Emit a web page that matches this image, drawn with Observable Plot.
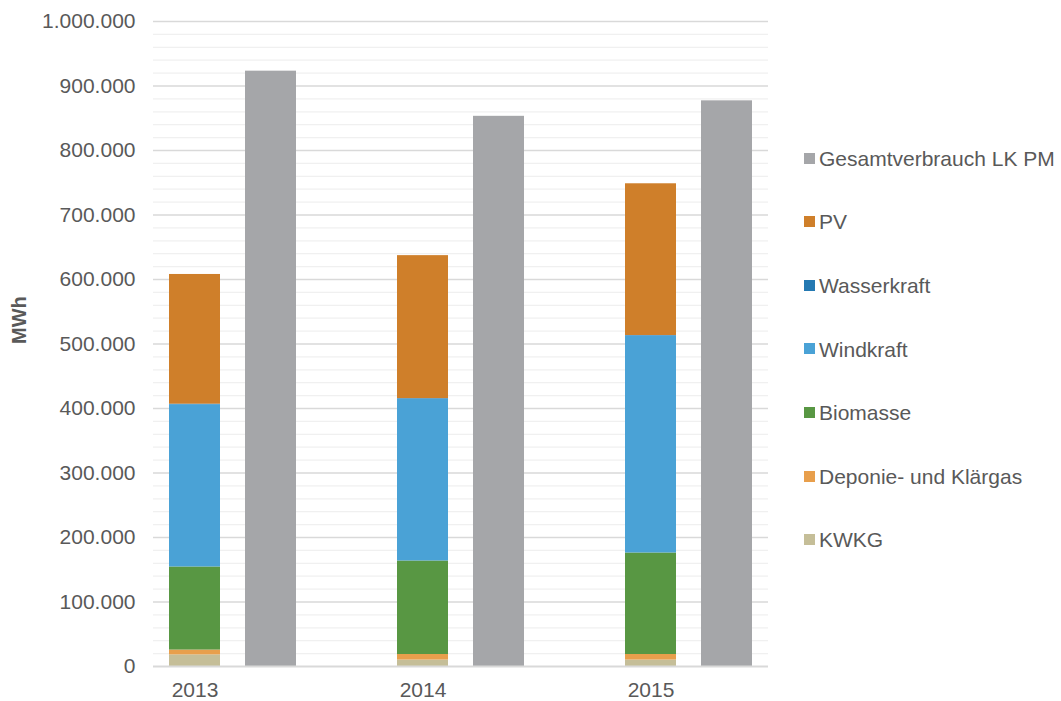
<!DOCTYPE html>
<html>
<head>
<meta charset="utf-8">
<script src="https://cdn.jsdelivr.net/npm/d3@7"></script>
<script src="https://cdn.jsdelivr.net/npm/@observablehq/plot@0.6"></script>
<style>
  html, body { margin: 0; padding: 0; background: #fff; }
  #wrap { position: relative; width: 1061px; height: 701px; font-family: "Liberation Sans", Arial, sans-serif; }
  #legend { position: absolute; left: 804px; top: 0; }
  .item { position: absolute; left: 0; white-space: nowrap; font-size: 21px; color: #595959; line-height: 24px; height: 24px; }
  .sw { display: inline-block; width: 11px; height: 11px; vertical-align: middle; margin-right: 4px; position: relative; top: -2px; }
</style>
</head>
<body>
<div id="wrap"></div>
<script>
// ---- data ----
const years = ["2013", "2014", "2015"];
const stackSeries = ["KWKG", "Deponie- und Klärgas", "Biomasse", "Windkraft", "Wasserkraft", "PV"];
const KWKG        = [18000, 10000, 10000];
const Deponie     = [7500, 8600, 8600];
const Biomasse    = [128800, 145000, 157400];
const Windkraft   = [251600, 251000, 336400];
const Wasserkraft = [800, 800, 800];
const PV          = [201100, 221600, 235200];
const totalName = "Gesamtverbrauch LK PM";
const Gesamtverbrauch = [923000, 853000, 877000];
const legendOrder = ["Gesamtverbrauch LK PM", "PV", "Wasserkraft", "Windkraft", "Biomasse", "Deponie- und Klärgas", "KWKG"];
const colors = {
  "Gesamtverbrauch LK PM": "#A5A6A9",
  "PV": "#CF7F2A",
  "Wasserkraft": "#2479B2",
  "Windkraft": "#4AA2D6",
  "Biomasse": "#589743",
  "Deponie- und Klärgas": "#E89F4C",
  "KWKG": "#C5BE98"
};
const yTicksMajor = d3.range(0, 1000001, 100000);
const yTicksMinor = d3.range(0, 1000001, 20000).filter(v => v % 100000 !== 0);

// ---- build tables ----
const seriesValues = [KWKG, Deponie, Biomasse, Windkraft, Wasserkraft, PV];
const gapSlots = ["gap1", "gap2"];
const slots = [];
years.forEach((y, i) => {
  slots.push(y, y + " G");
  if (i < years.length - 1) slots.push(gapSlots[i]);
});
const stackRows = [];
years.forEach((y, i) => {
  stackSeries.forEach((s, j) => stackRows.push({slot: y, series: s, value: seriesValues[j][i]}));
});
const totalRows = years.map((y, i) => ({slot: y + " G", series: totalName, value: Gesamtverbrauch[i]}));

const de = d3.formatLocale({decimal: ",", thousands: ".", grouping: [3], currency: ["", " €"]});
const fmt = de.format(",d");

const chart = Plot.plot({
  width: 1061,
  height: 701,
  marginLeft: 153,
  marginRight: 293,
  marginTop: 21,
  marginBottom: 35,
  style: {fontFamily: "Liberation Sans, Arial, sans-serif", fontSize: "21px", color: "#595959", background: "#fff"},
  x: {domain: slots, paddingInner: 0.33, paddingOuter: 0.165, align: 0.5, ticks: years, tickSize: 0, tickPadding: 16, label: null},
  y: {domain: [0, 1000000], ticks: yTicksMajor, tickFormat: fmt, tickSize: 0, tickPadding: 18, label: null},
  color: {domain: legendOrder, range: legendOrder.map(k => colors[k])},
  marks: [
    Plot.ruleY(yTicksMinor, {stroke: "#F0F0F0", strokeWidth: 1.2}),
    Plot.ruleY(yTicksMajor.filter(v => v > 0), {stroke: "#D9D9D9", strokeWidth: 1.3}),
    Plot.barY(stackRows, {x: "slot", y: "value", fill: "series"}),
    Plot.barY(totalRows, {x: "slot", y: "value", fill: "series"}),
    Plot.ruleY([0], {stroke: "#D9D9D9", strokeWidth: 2}),
    Plot.text(["MWh"], {frameAnchor: "left", dx: -134, rotate: -90, fontWeight: "bold", fontSize: 20, fill: "#595959", text: d => d})
  ]
});
const wrap = document.getElementById("wrap");
wrap.appendChild(chart);

// ---- legend ----
const legend = document.createElement("div");
legend.id = "legend";
legendOrder.forEach((name, i) => {
  const it = document.createElement("div");
  it.className = "item";
  it.style.top = (158.7 + 63.6 * i - 12) + "px";
  const sw = document.createElement("span");
  sw.className = "sw";
  sw.style.background = colors[name];
  it.appendChild(sw);
  it.appendChild(document.createTextNode(name));
  legend.appendChild(it);
});
wrap.appendChild(legend);
</script>
</body>
</html>
